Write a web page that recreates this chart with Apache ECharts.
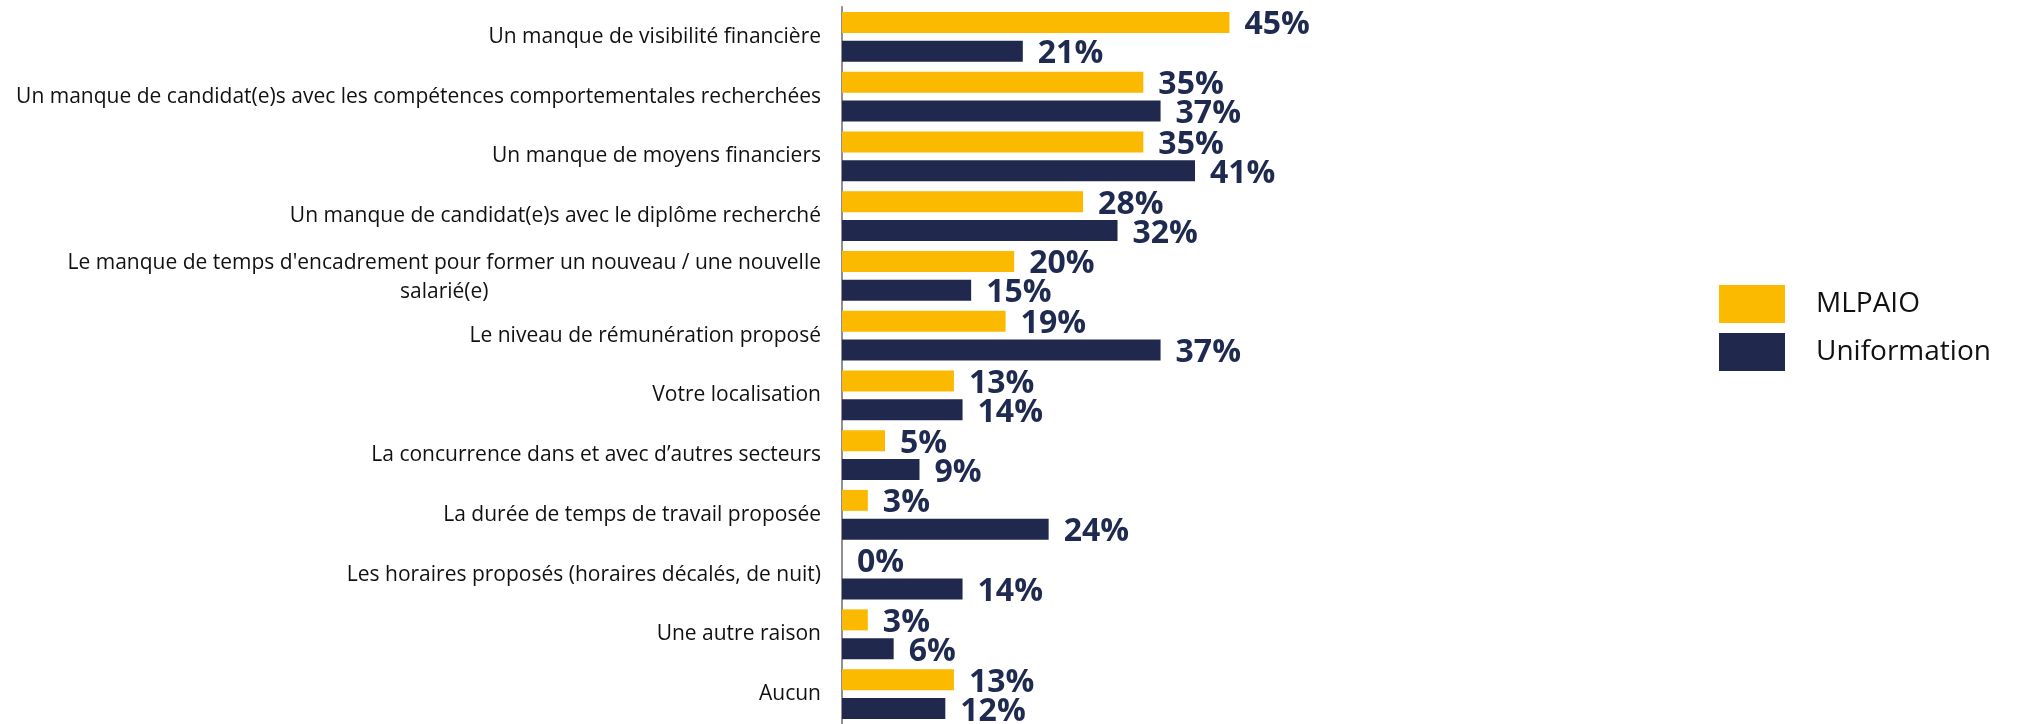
<!DOCTYPE html>
<html>
<head>
<meta charset="utf-8">
<script src="https://cdn.jsdelivr.net/npm/echarts@6/dist/echarts.min.js"></script>
<style>
  html, body { margin: 0; padding: 0; background: #fff; }
  #chart { width: 2019px; height: 724px; }
</style>
</head>
<body>
<div id="chart"></div>
<script>
  const categories = [
    'Un manque de visibilité financière',
    'Un manque de candidat(e)s avec les compétences comportementales recherchées',
    'Un manque de moyens financiers',
    'Un manque de candidat(e)s avec le diplôme recherché',
    "Le manque de temps d'encadrement pour former un nouveau / une nouvelle\nsalarié(e)",
    'Le niveau de rémunération proposé',
    'Votre localisation',
    'La concurrence dans et avec d’autres secteurs',
    'La durée de temps de travail proposée',
    'Les horaires proposés (horaires décalés, de nuit)',
    'Une autre raison',
    'Aucun'
  ]
  const mlpaio = [45, 35, 35, 28, 20, 19, 13, 5, 3, 0, 3, 13]
  const uniformation = [21, 37, 41, 32, 15, 37, 14, 9, 24, 14, 6, 12]

  const YELLOW = '#FBB900'
  const NAVY = '#20284E'
  const labelFont = '"Open Sans", sans-serif'

  const chart = echarts.init(document.getElementById('chart'))

  const valueLabel = {
    show: true,
    position: 'right',
    distance: 15,
    offset: [0, 3],
    formatter: '{c}%',
    color: '#1F2A50',
    fontFamily: labelFont,
    fontWeight: 'bold',
    fontSize: 32
  }

  chart.setOption({
    animation: false,
    grid: {
      left: 842,
      top: 7,
      width: 861,
      height: 720
    },
    legend: {
      left: 1719,
      top: 285,
      padding: 0,
      orient: 'vertical',
      itemWidth: 66,
      itemHeight: 38,
      itemGap: 10,
      icon: 'rect',
      textStyle: {
        fontFamily: labelFont,
        fontSize: 28,
        color: '#111',
        padding: [0, 0, 0, 26]
      },
      data: ['MLPAIO', 'Uniformation']
    },
    xAxis: {
      type: 'value',
      min: 0,
      max: 100,
      show: false
    },
    yAxis: {
      type: 'category',
      inverse: true,
      data: categories,
      axisLine: { lineStyle: { color: '#8E8E93', width: 2 } },
      axisTick: { length: 5, lineStyle: { color: '#8E8E93', width: 2 } },
      axisLabel: {
        margin: 21,
        fontFamily: labelFont,
        fontSize: 21,
        color: '#111',
        lineHeight: 33,
        formatter: function (val) {
          // two-line label: second line centred under the first
          if (val.indexOf('\n') >= 0) {
            const parts = val.split('\n')
            return '{a|' + parts[0] + '}\n{c|' + parts[1] + '}'
          }
          return val
        },
        rich: {
          a: { fontFamily: labelFont, fontSize: 21, color: '#111', lineHeight: 33, align: 'right', padding: [8, 0, 0, 0] },
          c: { fontFamily: labelFont, fontSize: 21, color: '#111', lineHeight: 33, align: 'center' }
        }
      }
    },
    series: [
      {
        name: 'MLPAIO',
        type: 'bar',
        data: mlpaio,
        barWidth: 21,
        barGap: '38%',
        itemStyle: { color: YELLOW },
        label: valueLabel
      },
      {
        name: 'Uniformation',
        type: 'bar',
        data: uniformation,
        barWidth: 21,
        barGap: '38%',
        itemStyle: { color: NAVY },
        label: valueLabel
      }
    ]
  })
</script>
</body>
</html>
